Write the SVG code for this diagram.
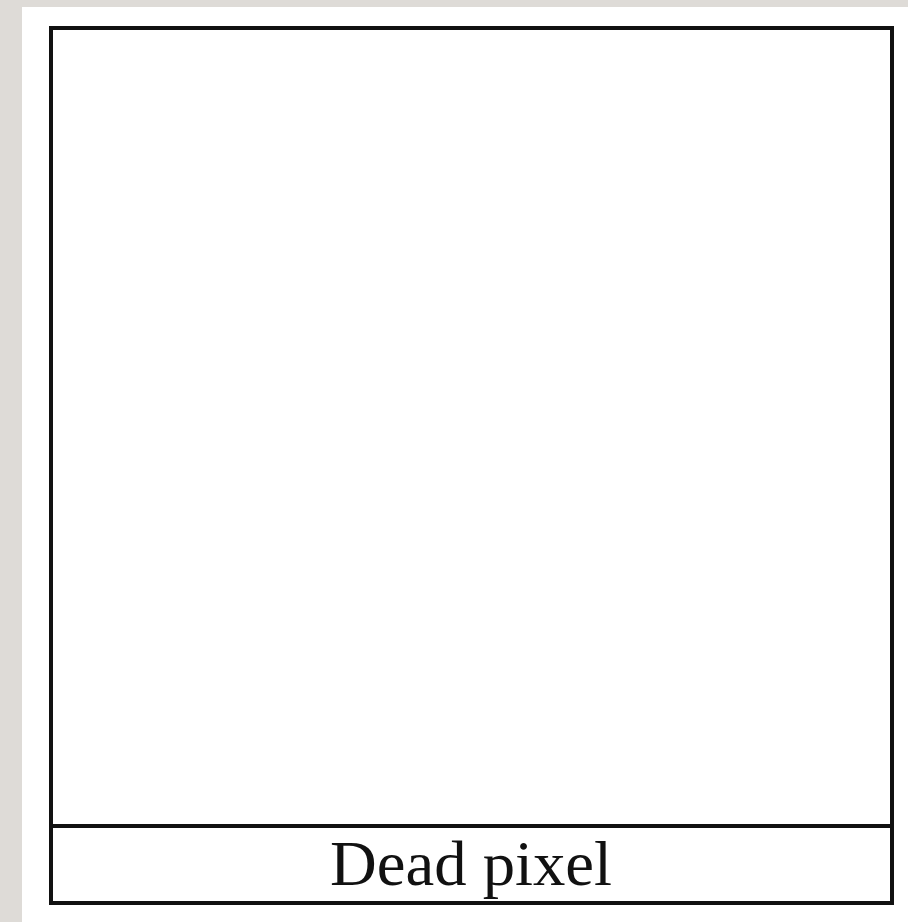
<svg xmlns="http://www.w3.org/2000/svg" width="908" height="922" viewBox="0 0 908 922">
<style>
.box{fill:#ffffff;stroke:#111111;stroke-width:4}
.lbl{font-family:"Liberation Serif","Times New Roman",serif;font-size:64px;fill:#111111}
</style>
<rect x="0" y="0" width="908" height="922" fill="#dedbd7"/>
<rect x="22" y="7" width="886" height="915" fill="#ffffff"/>
<g id="node-pixel">
<rect class="box" x="51" y="28" width="841" height="875"/>
<line x1="51" y1="826" x2="892" y2="826" stroke="#111111" stroke-width="4"/>
<text class="lbl" x="471" y="885" text-anchor="middle" textLength="282" lengthAdjust="spacingAndGlyphs">Dead pixel</text>
</g>
<g id="connectors"></g>
</svg>
